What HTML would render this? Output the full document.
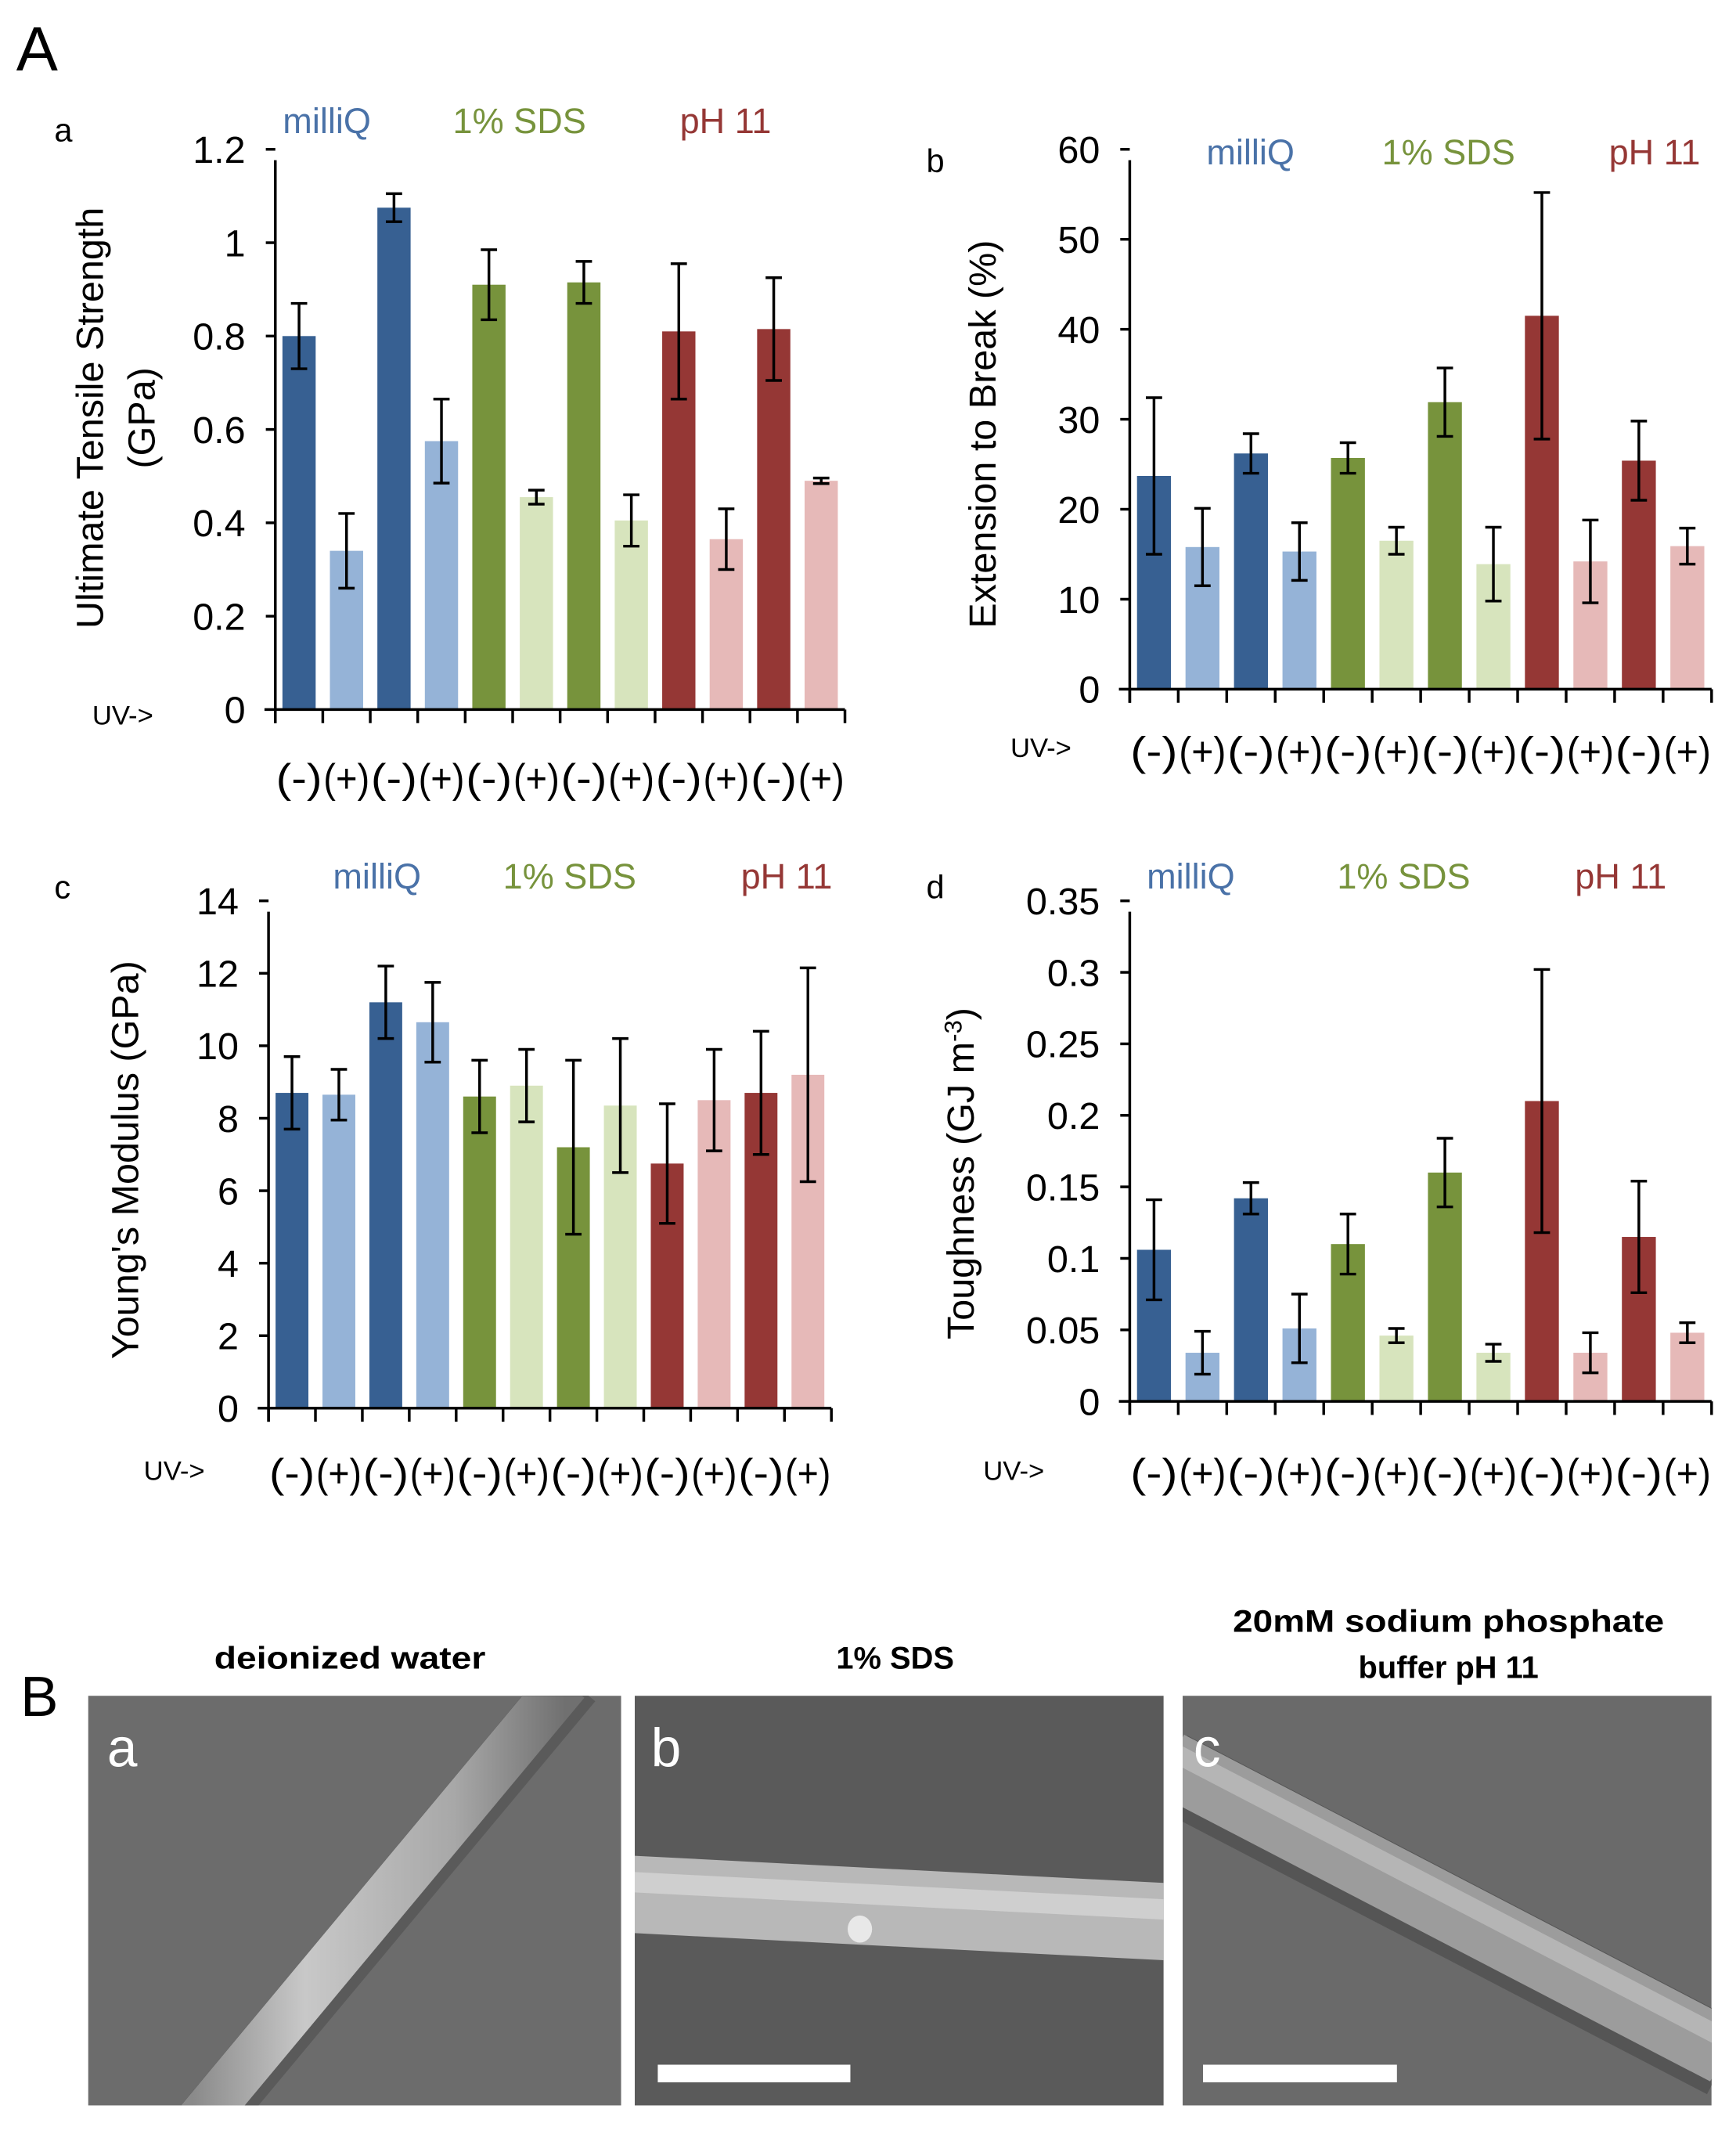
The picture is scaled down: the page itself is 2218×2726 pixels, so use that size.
<!DOCTYPE html>
<html><head><meta charset="utf-8"><style>
html,body{margin:0;padding:0;background:#fff}
svg{display:block}
text{font-family:"Liberation Sans",sans-serif}
</style></head><body>
<svg id="fig" width="2218" height="2726" viewBox="0 0 1280 1573" xmlns="http://www.w3.org/2000/svg">
<defs>
<linearGradient id="fibA" x1="0" y1="0" x2="1" y2="0"><stop offset="0" stop-color="#8a8a8a"/><stop offset="0.3" stop-color="#c8c8c8"/><stop offset="0.7" stop-color="#a8a8a8"/><stop offset="1" stop-color="#707070"/></linearGradient>
</defs>
<text x="12" y="52" font-size="46">A</text>
<text x="15" y="1265" font-size="42">B</text>
<g id="charts"></g>
<g id="sem">
  <text x="258" y="1230" font-size="23" font-weight="bold" text-anchor="middle" textLength="200" lengthAdjust="spacingAndGlyphs">deionized water</text>
  <text x="660" y="1230" font-size="23" font-weight="bold" text-anchor="middle">1% SDS</text>
  <text x="1068" y="1203" font-size="23" font-weight="bold" text-anchor="middle" textLength="318" lengthAdjust="spacingAndGlyphs">20mM sodium phosphate</text>
  <text x="1068" y="1237" font-size="23" font-weight="bold" text-anchor="middle">buffer pH 11</text>
  <svg x="65" y="1250" width="393" height="302">
    <rect width="393" height="302" fill="#6c6c6c"/>
    <line x1="357" y1="-10" x2="82" y2="320" stroke="#5a5a5a" stroke-width="44"/>
    <line x1="352" y1="-10" x2="77" y2="320" stroke="url(#fibA)" stroke-width="36"/>
    <text x="14" y="52" font-size="40" fill="#fff">a</text>
  </svg>
  <svg x="468" y="1250" width="390" height="302">
    <rect width="390" height="302" fill="#5a5a5a"/>
    <polygon points="0,118 390,138 390,195 0,175" fill="#b8b8b8"/>
    <polygon points="0,130 390,150 390,165 0,145" fill="#cfcfcf"/>
    <ellipse cx="166" cy="172" rx="9" ry="10" fill="#e8e8e8"/>
    <rect x="17" y="272" width="142" height="13" fill="#fff"/>
    <text x="12" y="52" font-size="40" fill="#fff">b</text>
  </svg>
  <svg x="872" y="1250" width="390" height="302">
    <rect width="390" height="302" fill="#6a6a6a"/>
    <line x1="-10" y1="55" x2="400" y2="268" stroke="#555" stroke-width="58"/>
    <line x1="-10" y1="50" x2="400" y2="263" stroke="#9c9c9c" stroke-width="48"/>
    <line x1="-10" y1="40" x2="400" y2="253" stroke="#b5b5b5" stroke-width="14"/>
    <rect x="15" y="272" width="143" height="13" fill="#fff"/>
    <text x="8" y="52" font-size="40" fill="#fff">c</text>
  </svg>
</g>
</svg>
<script>
const uvLabels = ["(-)","(+)","(-)","(+)","(-)","(+)","(-)","(+)","(-)","(+)","(-)","(+)"];
const barColors = ["#376092","#95B3D7","#376092","#95B3D7","#77933C","#D7E4BD","#77933C","#D7E4BD","#953735","#E6B9B8","#953735","#E6B9B8"];
const groupNames = ["milliQ","1% SDS","pH 11"];
const groupColors = ["#4a72a8","#77933C","#953735"];
const utsValues = [0.80,0.34,1.075,0.575,0.91,0.455,0.915,0.405,0.81,0.365,0.815,0.49];
const utsErrors = [0.07,0.08,0.03,0.09,0.075,0.015,0.045,0.055,0.145,0.065,0.11,0.006];
const utsTicks = ["0","0.2","0.4","0.6","0.8","1","1.2"];
const extValues = [23.7,15.8,26.2,15.3,25.7,16.5,31.9,13.9,41.5,14.2,25.4,15.9];
const extErrors = [8.7,4.3,2.2,3.2,1.7,1.5,3.8,4.1,13.7,4.6,4.4,2.0];
const extTicks = ["0","10","20","30","40","50","60"];
const ymValues = [8.7,8.65,11.2,10.65,8.6,8.9,7.2,8.35,6.75,8.5,8.7,9.2];
const ymErrors = [1.0,0.7,1.0,1.1,1.0,1.0,2.4,1.85,1.65,1.4,1.7,2.95];
const ymTicks = ["0","2","4","6","8","10","12","14"];
const tghValues = [0.106,0.034,0.142,0.051,0.110,0.046,0.160,0.034,0.210,0.034,0.115,0.048];
const tghErrors = [0.035,0.015,0.011,0.024,0.021,0.005,0.024,0.006,0.092,0.014,0.039,0.007];
const tghTicks = ["0","0.05","0.1","0.15","0.2","0.25","0.3","0.35"];

const NS="http://www.w3.org/2000/svg";
const root=document.getElementById('charts');
function mk(tag,attrs,parent){const e=document.createElementNS(NS,tag);for(const k in attrs)e.setAttribute(k,attrs[k]);parent.appendChild(e);return e;}

function chart(cfg){
  const g=mk('g',{},root);
  
  
  const yScale=v=>cfg.y0-(v/cfg.max)*(cfg.y0-cfg.yTop);
  const bw=(cfg.x1-cfg.x0)/cfg.values.length;
  const xC=i=>cfg.x0+bw*(i+0.5);
  cfg.values.forEach((v,i)=>{
    const r=mk('rect',{x:xC(i)-bw*0.35,y:yScale(v),width:bw*0.7,height:cfg.y0-yScale(v),fill:barColors[i]},g);
    
    
  });
  cfg.values.forEach((v,i)=>{
    const e=cfg.errors[i];const eg=mk('g',{stroke:'#000','stroke-width':2},g);
    
    
    mk('line',{x1:xC(i),x2:xC(i),y1:yScale(v-e),y2:yScale(v+e)},eg);
    mk('line',{x1:xC(i)-6,x2:xC(i)+6,y1:yScale(v-e),y2:yScale(v-e)},eg);
    mk('line',{x1:xC(i)-6,x2:xC(i)+6,y1:yScale(v+e),y2:yScale(v+e)},eg);
  });
  const ax=mk('g',{stroke:'#000','stroke-width':2},g);
  
  
  mk('line',{x1:cfg.x0,x2:cfg.x0,y1:cfg.yTop+8,y2:cfg.y0+10},ax);
  mk('line',{x1:cfg.x0-8,x2:cfg.x1,y1:cfg.y0,y2:cfg.y0},ax);
  for(let i=0;i<=cfg.values.length;i++){mk('line',{x1:cfg.x0+bw*i,x2:cfg.x0+bw*i,y1:cfg.y0,y2:cfg.y0+10},ax);}
  const step=cfg.max/(cfg.ticks.length-1);
  cfg.ticks.forEach((t,i)=>{
    const y=yScale(step*i);
    if(i>0) mk('line',{x1:cfg.x0-7,x2:cfg.x0,y1:y,y2:y},ax);
    const tx=mk('text',{x:cfg.x0-22,y:y+10,'font-size':28,'text-anchor':'end'},g);tx.textContent=t;
    
    
  });
  uvLabels.forEach((l,i)=>{
    const t=mk('text',{x:xC(i),y:cfg.labY,'font-size':30,'text-anchor':'middle',textLength:bw-1,lengthAdjust:'spacingAndGlyphs'},g);t.textContent=l;
    
    
  });
  const uv=mk('text',{x:cfg.uvX,y:cfg.uvY,'font-size':20},g);uv.textContent='UV->';
  
  
  groupNames.forEach((n,i)=>{
    const t=mk('text',{x:cfg.groupX[i],y:cfg.groupY,'font-size':26,'text-anchor':'middle',fill:groupColors[i]},g);t.textContent=n;
    
    
  });
  const pl=mk('text',{x:cfg.letter[0],y:cfg.letter[1],'font-size':24},g);pl.textContent=cfg.letterText;
  
  
  cfg.title.forEach((line,k)=>{
    const t=mk('text',{transform:`translate(${cfg.titleX[k]},${cfg.titleY}) rotate(-90)`,'font-size':28,'text-anchor':'middle'},g);
    t.innerHTML=line;
    
    
  });
}
chart({name:'chart-tensile-strength',x0:203,x1:623,y0:523,yTop:110,max:1.2,values:utsValues,errors:utsErrors,ticks:utsTicks,labY:584,uvX:68,uvY:534,groupX:[241,383,535],groupY:98,letter:[40,104],letterText:'a',title:['Ultimate Tensile Strength','(GPa)'],titleX:[76,114],titleY:308});
chart({name:'chart-extension',x0:833,x1:1262,y0:508,yTop:110,max:60,values:extValues,errors:extErrors,ticks:extTicks,labY:564,uvX:745,uvY:558,groupX:[922,1068,1220],groupY:121,letter:[683,127],letterText:'b',title:['Extension to Break (%)'],titleX:[734],titleY:320});
chart({name:'chart-youngs-modulus',x0:198,x1:613,y0:1038,yTop:664,max:14,values:ymValues,errors:ymErrors,ticks:ymTicks,labY:1096,uvX:106,uvY:1091,groupX:[278,420,580],groupY:655,letter:[40,662],letterText:'c',title:["Young's Modulus (GPa)"],titleX:[102],titleY:855});
chart({name:'chart-toughness',x0:833,x1:1262,y0:1033,yTop:664,max:0.35,values:tghValues,errors:tghErrors,ticks:tghTicks,labY:1096,uvX:725,uvY:1091,groupX:[878,1035,1195],groupY:655,letter:[683,662],letterText:'d',title:['Toughness (GJ m<tspan dy="-9" font-size="18">-3</tspan><tspan dy="9">)</tspan>'],titleX:[718],titleY:865});
</script>
</body></html>
